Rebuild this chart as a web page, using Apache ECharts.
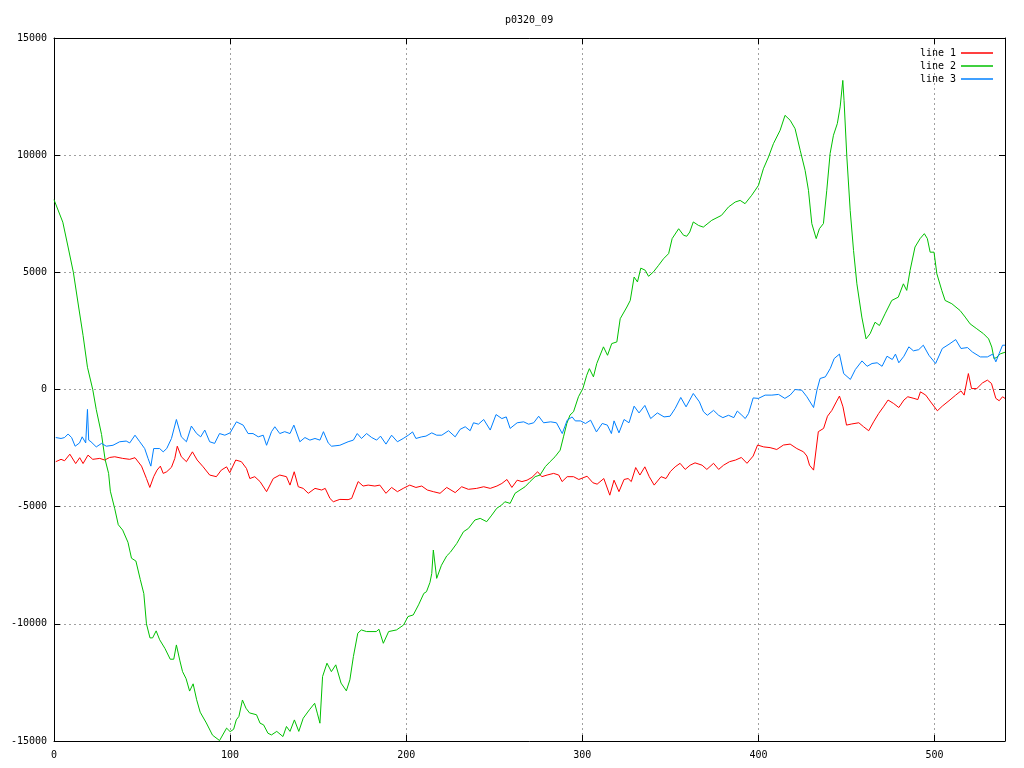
<!DOCTYPE html>
<html>
<head>
<meta charset="utf-8">
<script src="https://cdn.jsdelivr.net/npm/echarts@6/dist/echarts.min.js"></script>
<style>html,body{margin:0;padding:0;background:#fff;}#c{width:1024px;height:768px;}</style>
</head>
<body>
<div id="c"></div>
<script>
const titleText = 'p0320_09';
const seriesNames = ['line 1', 'line 2', 'line 3'];
const xTicks = [0, 100, 200, 300, 400, 500];
const yTicks = [-15000, -10000, -5000, 0, 5000, 10000, 15000];

// line 1 (red)
const line1X = [1,4,6,9,12.3,14.6,16.5,19.3,22,26,28.8,31.6,34.5,39,43,46,49.7,52.5,54.4,56.6,58.5,60.4,62,64,66.7,68.6,70,72.3,75.2,78.6,81.3,84.7,88.4,92.2,95,98,99.8,103.2,106.4,109.3,111.2,114,117,120.7,124.5,128.2,132,134,136.4,138.7,141.5,144.4,148.2,152,154,156.7,158.6,162.3,167,169,172.7,175.5,178.4,182.2,185,188.5,191.7,195,198.3,202,205.5,208.8,212,215.4,219.2,223,227.8,231.5,235.3,240,244,247.7,251.5,254.3,257.2,260,263,265.7,268.6,271.4,274.6,277,280,283.7,286.6,288.5,291.4,295,298,302.7,306,308.4,312.2,315.6,318,320.8,323.7,326,327.8,330.3,332.7,335.5,338,340.8,344.7,347.5,350,352.7,355.5,358.4,361.2,364,368,370.7,374.5,377.4,380.2,383.6,387,390.3,393.5,397,399.5,403,406.6,410.4,414.2,418,421.8,425.6,427.5,429,431.3,434,437,439.2,441.7,444.2,446,448,450,453,457,459.7,462.6,465.4,468.3,471,473.6,476.8,479.7,482.6,484.8,488.3,490.5,492,495,497.8,501.6,504.4,508.2,512,515,516.8,519.2,521,524,527.2,530,532.3,534.8,536.7,538.6,540];
const line1Y = [-3080,-2980,-3040,-2760,-3160,-2910,-3160,-2800,-2980,-2940,-3010,-2900,-2870,-2940,-2980,-2910,-3270,-3800,-4180,-3720,-3440,-3270,-3580,-3510,-3320,-2940,-2420,-2870,-3080,-2660,-3010,-3300,-3650,-3720,-3440,-3300,-3550,-3010,-3080,-3370,-3800,-3720,-3930,-4360,-3800,-3650,-3720,-4080,-3510,-4150,-4220,-4430,-4220,-4290,-4220,-4650,-4790,-4690,-4700,-4650,-3930,-4120,-4080,-4120,-4080,-4430,-4180,-4360,-4220,-4080,-4180,-4120,-4290,-4360,-4430,-4180,-4400,-4150,-4260,-4220,-4150,-4220,-4120,-4010,-3840,-4180,-3870,-3930,-3870,-3750,-3510,-3720,-3650,-3580,-3650,-3930,-3720,-3720,-3840,-3700,-3980,-4040,-3800,-4510,-3870,-4360,-3840,-3800,-3930,-3330,-3650,-3300,-3720,-4080,-3720,-3800,-3500,-3300,-3150,-3410,-3230,-3130,-3230,-3410,-3150,-3410,-3230,-3080,-3010,-2900,-3150,-2840,-2370,-2450,-2480,-2560,-2370,-2330,-2520,-2660,-2840,-3230,-3440,-1800,-1660,-1140,-890,-530,-280,-740,-1520,-1470,-1420,-1590,-1760,-1380,-1020,-740,-450,-600,-770,-450,-310,-380,-430,-100,-240,-530,-910,-710,-480,-240,-60,-240,680,40,40,280,400,260,-380,-480,-310,-380];

// line 2 (green)
const line2X = [0,1,5,8,11,14,16.5,19,22,24,27,29,31,32,34.5,36.5,39,42,44,46.5,49,51,52.5,54.5,56,58,60,63,66,68,69.5,71.5,73,75,77,79,81,83,86.5,90,94,98,100,102,103.5,105,107,109,111,115,117,119,121.5,123.5,126.5,130,132,134,136.5,139,141.5,145,148,149.5,151,152.5,155,157.5,160,163,166,168,170,172.5,174.5,177.5,183,184.5,187,190,194.5,198.5,201,204,207,210,211.5,213.5,214.5,215.4,217.3,220,223,225,228.7,232.5,235.3,239,242,245.7,248.6,251.4,254.2,256,259,261.8,264.6,267.5,270.3,273.2,276,279,281.7,284.5,287.4,289.3,291.2,293,295,297.8,300.3,302.5,304,306.3,308.2,312,314.3,316.7,319.6,321.5,325.3,327.2,329.4,331.3,333.2,335.7,337.6,340.4,343.3,346.1,349,351,354.7,357.5,359.3,361,363,366,368.7,373.5,379,383,386.8,389.6,392.4,396.2,400,402.8,405.7,408.5,412.3,415.1,418,420.8,423.7,426.5,428.4,430.3,432.8,434.6,436.9,438.8,440.7,442.6,444.8,446.4,447.9,448.6,450.2,452.1,454,455.9,458.7,461.1,463.4,466.2,468.7,471.9,475.7,479.4,482.3,484.2,486.1,488.9,491.8,494.2,495.9,497.5,499.7,501.3,504.1,506,509.8,514.5,517.4,520.2,524,527.8,530.7,532.5,533.8,535.4,537.3,540];
const line2Y = [8100,8020,7140,6080,5000,3520,2310,950,0,-860,-1920,-2980,-3580,-4340,-5090,-5770,-6000,-6520,-7200,-7320,-8110,-8710,-10000,-10600,-10600,-10300,-10680,-11050,-11510,-11510,-10900,-11580,-12040,-12340,-12870,-12560,-13240,-13770,-14230,-14750,-14980,-14450,-14600,-14500,-14100,-13950,-13250,-13600,-13800,-13880,-14240,-14310,-14670,-14740,-14590,-14810,-14380,-14590,-14100,-14590,-14030,-13670,-13390,-13810,-14240,-12250,-11680,-12040,-11750,-12530,-12860,-12390,-11400,-10400,-10260,-10330,-10330,-10230,-10830,-10330,-10260,-10050,-9690,-9620,-9190,-8700,-8630,-8230,-7850,-6850,-8060,-7500,-7100,-6950,-6570,-6070,-5930,-5570,-5500,-5640,-5360,-5070,-4930,-4790,-4860,-4430,-4290,-4150,-3930,-3720,-3650,-3290,-3080,-2870,-2590,-2020,-1450,-1090,-950,-310,40,610,890,540,1110,1820,1460,1960,2030,3020,3520,3800,4800,4590,5180,5090,4830,5020,5300,5580,5800,6440,6860,6580,6540,6720,7150,7000,6930,7220,7430,7790,8000,8070,7930,8290,8710,9420,9920,10490,11060,11700,11490,11130,10210,9350,8500,7080,6440,6860,7080,8500,10070,10850,11350,12060,13190,12340,9920,7640,5930,4510,3090,2160,2380,2870,2730,3230,3800,3940,4510,4230,5080,6080,6440,6650,6440,5860,5860,4940,4230,3800,3660,3370,3090,2800,2590,2380,2160,1810,1310,1380,1520,1590];

// line 3 (blue)
const line3X = [1,4,6,8,10,12,14.5,16,18,19,19.7,21,24,27,29.7,33.5,37.3,41,43,46,48.7,51.5,53.4,55,56.6,60,62,64,66.7,69.5,72.3,75.2,78,81,83.3,85.6,88.4,91.2,94,97,100,103.6,107.4,110.2,113,116,118.8,120.7,123.5,125.4,128.2,131,134,136.2,139.6,142.5,145.3,148.2,151,153,155.7,157.6,162.3,167,170,172.2,174.6,177.5,180.4,183.2,185.4,188.5,191.7,195,198.3,201.2,203.6,205.5,208.8,211.2,214.5,217.3,220.2,224,227.8,230.6,233.5,236.3,238.2,241,244,247.7,251,254.3,256.8,259,263,266.7,269.5,272.4,275.2,278,282,285.3,288.6,291.4,294.2,296,299,301.8,304.7,308,311.3,314.2,316.5,318,320.8,323.7,326.5,329.4,332.2,335.5,338.8,342.6,346.4,349.8,352.7,355.9,358.9,363,366.5,368.8,371,374.5,377.4,379.8,383,386,388,390.6,392.5,394.4,397,400,403.8,407.6,411.4,415,418,420.8,424.6,427.5,431.3,433.2,435,438,440.8,443,446,448.4,452.2,455,458.8,461.7,464.5,467.4,470.2,473,476,477.8,479.7,482.6,485.4,488,491,493.6,496.8,500.6,504.4,508.2,512,515,518.7,521.5,526,530,533,534.8,536.7,538.6,540];
const line3Y = [-2050,-2090,-2050,-1900,-2050,-2420,-2280,-2020,-2280,-850,-2160,-2230,-2450,-2300,-2420,-2380,-2230,-2200,-2280,-1950,-2230,-2520,-2940,-3270,-2520,-2520,-2660,-2520,-2090,-1280,-2020,-2230,-1560,-1880,-2020,-1730,-2230,-2300,-1880,-1950,-1850,-1380,-1520,-1880,-1880,-2020,-1950,-2380,-1800,-1590,-1880,-1800,-1880,-1520,-2230,-2050,-2160,-2090,-2160,-1800,-2280,-2420,-2380,-2230,-2160,-1880,-2090,-1880,-2050,-2160,-1990,-2330,-1950,-2230,-2090,-1950,-1810,-2090,-2020,-1990,-1850,-1950,-1950,-1760,-2020,-1700,-1590,-1760,-1420,-1480,-1280,-1730,-1070,-1240,-1170,-1660,-1420,-1380,-1480,-1420,-1140,-1420,-1380,-1420,-1880,-1310,-1170,-1340,-1340,-1450,-1310,-1810,-1450,-1520,-1880,-1340,-1850,-1280,-1420,-710,-1000,-680,-1240,-1000,-1170,-1140,-810,-340,-740,-170,-530,-950,-1100,-890,-1100,-1200,-1100,-1200,-920,-1100,-1240,-1020,-360,-380,-240,-240,-210,-380,-240,0,-30,-310,-770,-30,470,540,900,1320,1510,680,430,850,1220,990,1110,1140,990,1420,1280,1510,1140,1420,1820,1650,1700,1890,1460,1110,1750,1930,2130,1750,1790,1600,1390,1390,1510,1180,1540,1890,1890];

const colors = ['#ff0000', '#00c000', '#0080ff'];
const pairs = (xs, ys) => xs.map((x, i) => [x, ys[i]]);
const FONT = 'DejaVu Sans Mono';

const chart = echarts.init(document.getElementById('c'), null, {renderer: 'canvas'});
const gridLine = {show: true, lineStyle: {color: '#a0a0a0', width: 1, type: [2, 3]}};
const baseAxisLine = {show: true, onZero: false, lineStyle: {color: '#000', width: 1}};
const tickIn = {show: true, inside: true, length: 6, lineStyle: {color: '#000', width: 1}};

chart.setOption({
  animation: false,
  backgroundColor: '#fff',
  title: {
    text: titleText, left: 500, top: 10,
    textStyle: {fontFamily: FONT, fontSize: 10, fontWeight: 'normal', color: '#000'}
  },
  legend: {
    data: seriesNames, orient: 'vertical', right: 26, top: 43,
    align: 'right', icon: 'rect', itemWidth: 32, itemHeight: 1.5, itemGap: 3,
    textStyle: {fontFamily: FONT, fontSize: 10, color: '#000', lineHeight: 10}
  },
  grid: {left: 54, right: 19, top: 38, bottom: 27, containLabel: false},
  xAxis: [
    {type: 'value', min: xTicks[0], max: 540, interval: xTicks[1] - xTicks[0], position: 'bottom',
     axisLine: baseAxisLine, axisTick: tickIn, splitLine: gridLine,
     axisLabel: {fontFamily: FONT, fontSize: 10, color: '#000', margin: 9, showMaxLabel: false,
                 formatter: v => String(v)}},
    {type: 'value', min: xTicks[0], max: 540, interval: xTicks[1] - xTicks[0], position: 'top',
     axisLine: baseAxisLine, axisTick: tickIn, splitLine: {show: false}, axisLabel: {show: false}}
  ],
  yAxis: [
    {type: 'value', min: yTicks[0], max: yTicks[yTicks.length - 1], interval: yTicks[1] - yTicks[0], position: 'left',
     axisLine: baseAxisLine, axisTick: tickIn, splitLine: gridLine,
     axisLabel: {fontFamily: FONT, fontSize: 10, color: '#000', margin: 7, formatter: v => String(v)}},
    {type: 'value', min: yTicks[0], max: yTicks[yTicks.length - 1], interval: yTicks[1] - yTicks[0], position: 'right',
     axisLine: baseAxisLine, axisTick: tickIn, splitLine: {show: false}, axisLabel: {show: false}}
  ],
  series: [
    {name: seriesNames[0], type: 'line', data: pairs(line1X, line1Y), xAxisIndex: 0, yAxisIndex: 0,
     showSymbol: false, symbol: 'none', color: colors[0], lineStyle: {width: 1, color: colors[0]}},
    {name: seriesNames[1], type: 'line', data: pairs(line2X, line2Y), xAxisIndex: 0, yAxisIndex: 0,
     showSymbol: false, symbol: 'none', color: colors[1], lineStyle: {width: 1, color: colors[1]}},
    {name: seriesNames[2], type: 'line', data: pairs(line3X, line3Y), xAxisIndex: 0, yAxisIndex: 0,
     showSymbol: false, symbol: 'none', color: colors[2], lineStyle: {width: 1, color: colors[2]}}
  ]
});
</script>
</body>
</html>
